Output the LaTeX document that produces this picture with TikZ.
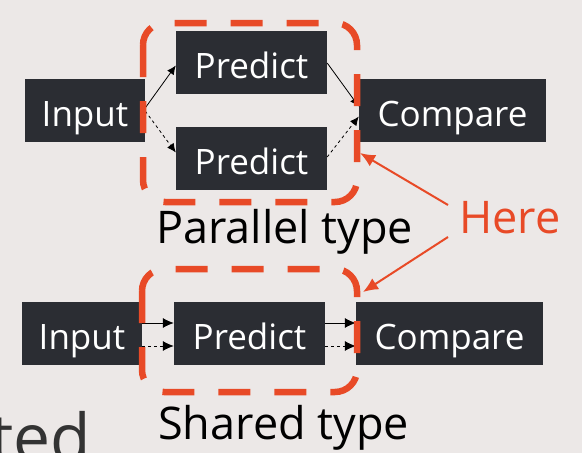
\documentclass[tikz,border=0pt]{standalone}
\usepackage{fontspec}
\setmainfont{Open Sans}
\usetikzlibrary{arrows.meta}
\definecolor{bg}{HTML}{ECE8E7}
\definecolor{boxc}{HTML}{2B2D33}
\definecolor{orng}{HTML}{E84A27}
\definecolor{txtg}{HTML}{333333}
\tikzset{
  blk/.style={fill=boxc, text=white, minimum height=63pt, inner sep=0pt, text height=31pt, text depth=0pt, font=\fontsize{35}{40}\selectfont},
  grp/.style={draw=orng, line width=6.5pt, rounded corners=22pt, dash pattern=on 32pt off 24pt},
  thin/.style={line width=0.8pt, -{Latex[length=9pt,width=8pt]}},
  thinb/.style={line width=0.8pt, -{Latex[length=11pt,width=10pt]}},
  hereArrow/.style={draw=orng, line width=2pt, -{Latex[length=15pt,width=13pt]}},
  lbl/.style={anchor=base west, inner sep=0pt, font=\fontsize{45}{50}\selectfont}
}
\begin{document}
\begin{tikzpicture}[x=1pt,y=-1pt]
\useasboundingbox[fill=bg] (0,0) rectangle (582,453);
% background slide text
\begin{scope}
\clip (0,0) rectangle (582,453);
\node[anchor=base east, inner sep=0pt, text=txtg, font=\fontsize{66}{70}\selectfont] (ted) at (91,461) {ted};
\end{scope}
% top group
\node[blk, minimum width=120pt] (i1) at (85,110.5) {Input};
\node[blk, minimum width=151pt] (p1) at (251.5,62.5) {Predict};
\node[blk, minimum width=151pt] (p2) at (251.5,158.5) {Predict};
\node[blk, minimum width=187pt] (c1) at (452.5,110.5) {Compare};
\draw[thin] ([yshift=2.5pt]i1.east) -- ([yshift=-3pt]p1.west);
\draw[thin, dashed] ([yshift=-0.5pt]i1.east) -- ([yshift=6pt]p2.west);
\draw[thin] ([yshift=-0.5pt]p1.east) -- ([yshift=4pt]c1.west);
\draw[thin, dashed] ([yshift=1.5pt]p2.east) -- ([yshift=-6pt]c1.west);
\draw[grp] (143,23) rectangle (357,202);
\node[lbl] (pt) at (156,243) {Parallel type};
% bottom group
\node[blk, minimum width=120pt] (i2) at (82,333.5) {Input};
\node[blk, minimum width=151pt] (p3) at (249.5,333.5) {Predict};
\node[blk, minimum width=187pt] (c2) at (449.5,333.5) {Compare};
\draw[thinb] ([yshift=10.5pt]i2.east) -- ([yshift=10.5pt]p3.west);
\draw[thinb, dashed] ([yshift=-12.5pt]i2.east) -- ([yshift=-12.5pt]p3.west);
\draw[thinb] ([yshift=10.5pt]p3.east) -- ([yshift=10.5pt]c2.west);
\draw[thinb, dashed] ([yshift=-12.5pt]p3.east) -- ([yshift=-12.5pt]c2.west);
\draw[grp] (142,269) rectangle (357,392);
\node[lbl] (st) at (158,439) {Shared type};
% Here
\node[lbl, text=orng] (here) at (459,233) {Here};
\coordinate (h1) at (448,205);
\coordinate (h2) at (448,237);
\coordinate (t1) at (360,153);
\coordinate (t2) at (363,292);
\draw[hereArrow] (h1) -- (t1);
\draw[hereArrow] (h2) -- (t2);
\end{tikzpicture}
\end{document}
